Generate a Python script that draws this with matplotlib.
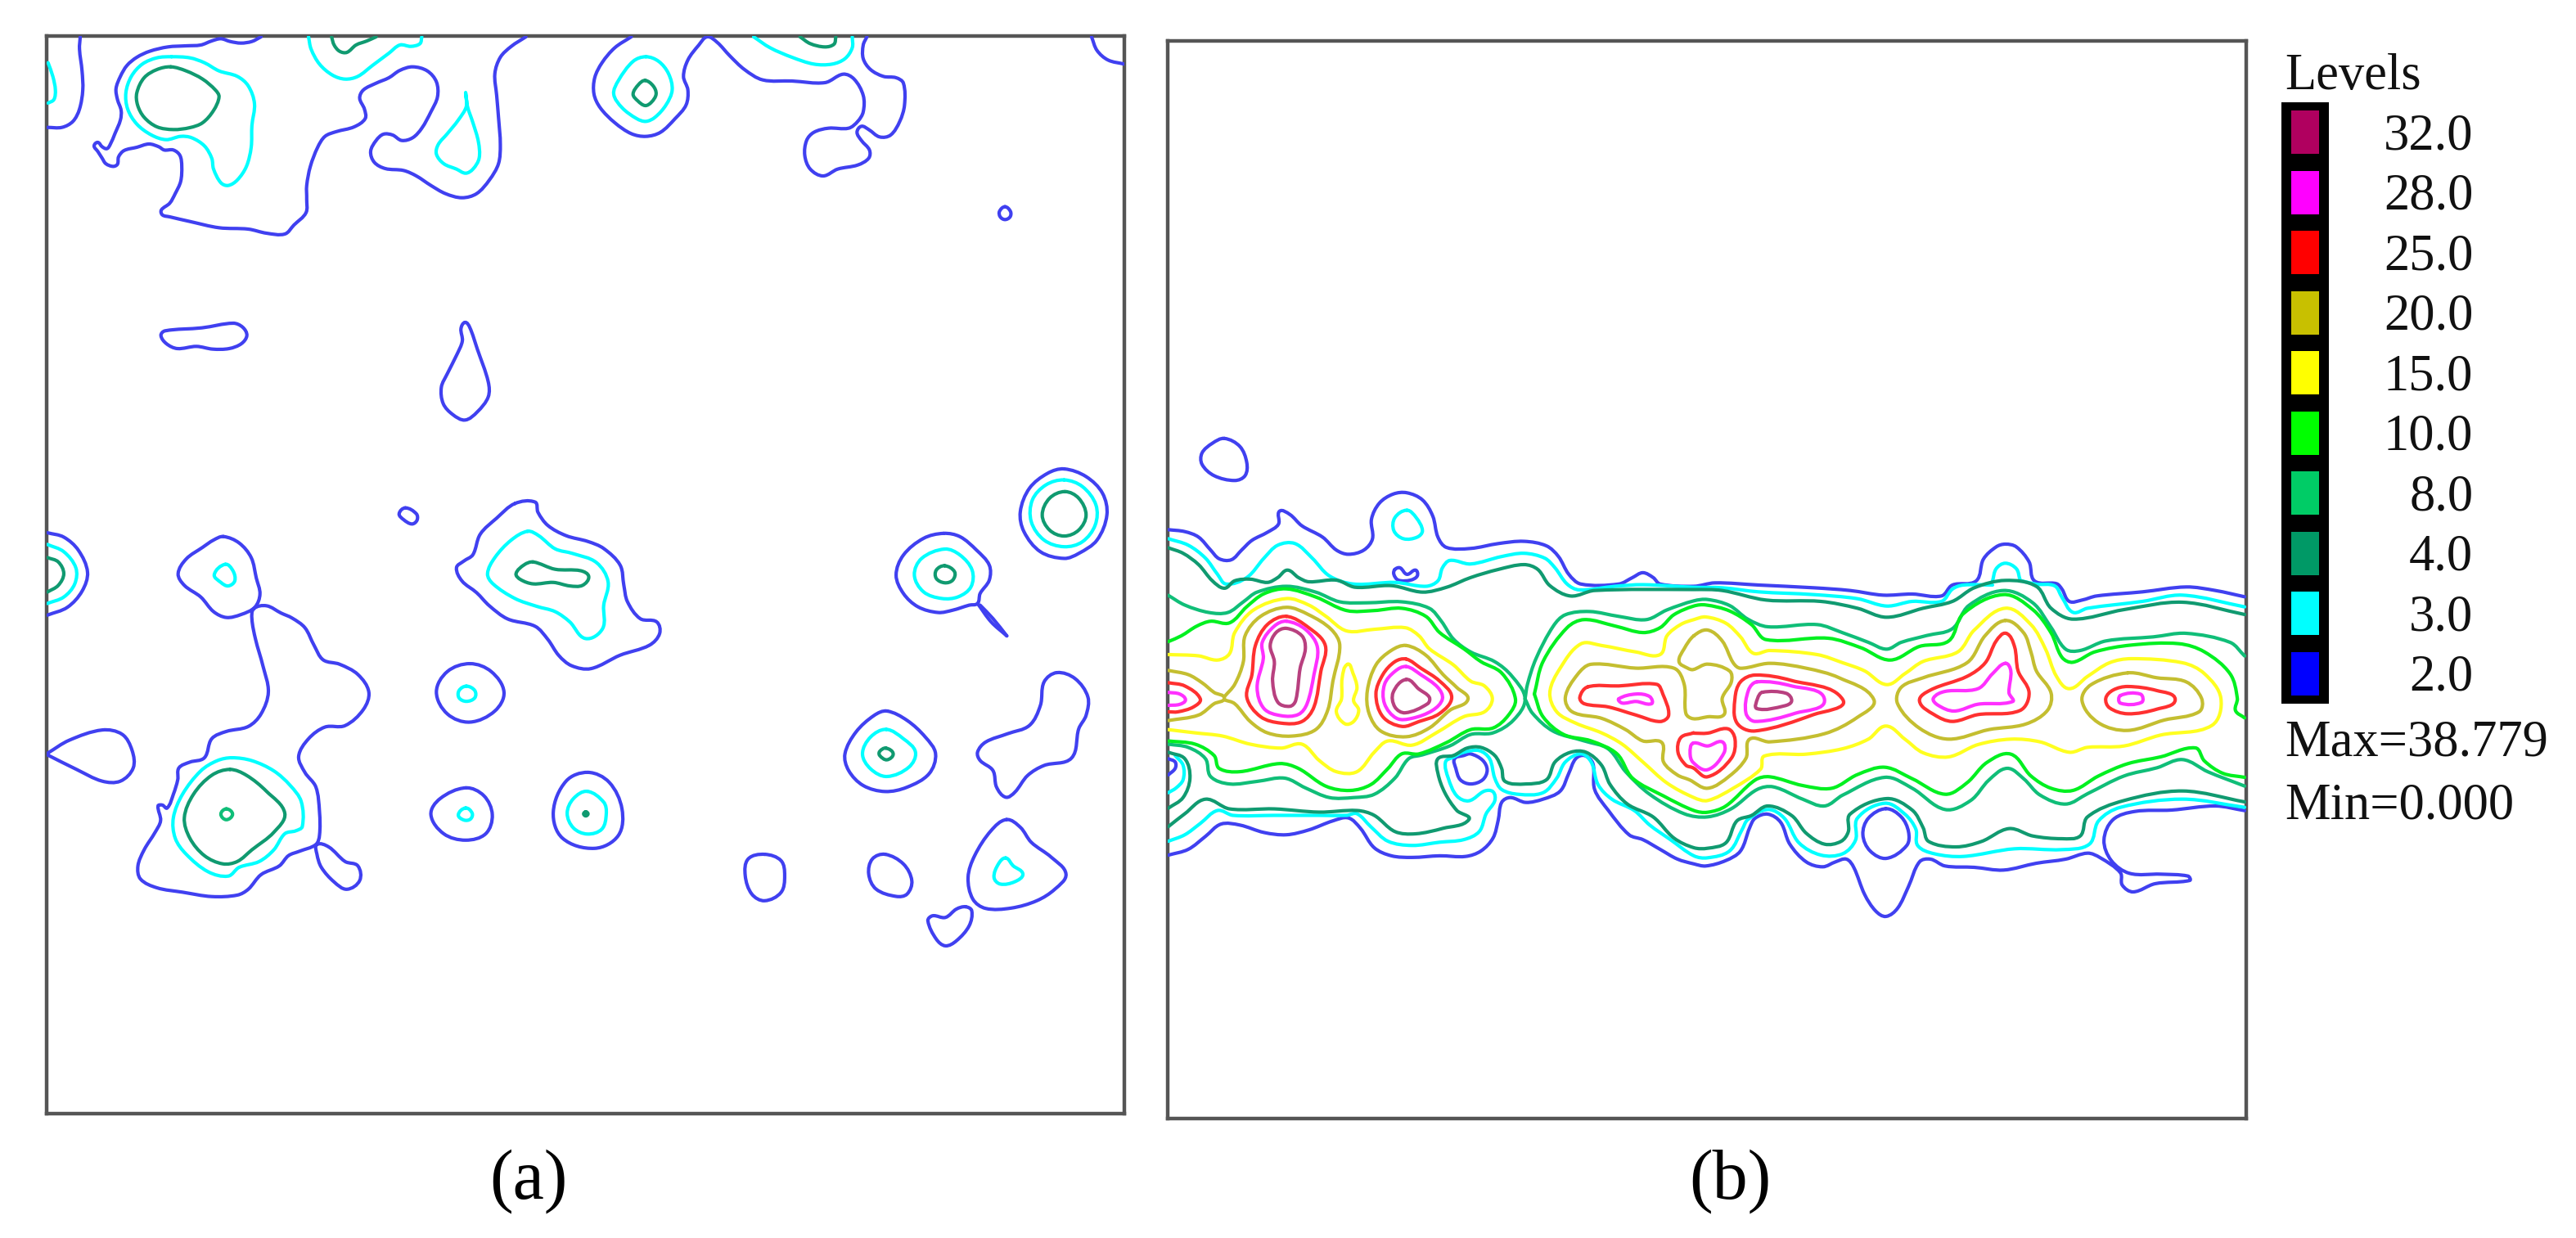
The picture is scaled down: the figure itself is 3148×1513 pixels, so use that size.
import numpy as np
import matplotlib
matplotlib.use("Agg")
import matplotlib.pyplot as plt
from matplotlib.path import Path
from matplotlib.patches import PathPatch, Rectangle

W, H = 3148, 1513

# Digitising helpers: every crop of the reference has an origin and a scale;
# they turn crop readings into reference pixel readings.
def _crop(x0, y0, sx, sy):
    def f(pts):
        return [(x0 + x / sx, y0 + y / sy) for x, y in pts]
    return f

z1 = _crop(40, 30, 2.24, 3.0)
z2 = _crop(700, 30, 2.24, 3.0)
z3 = _crop(40, 560, 2.24, 2.8)
z4 = _crop(700, 560, 2.24, 2.45)
z5 = _crop(1410, 520, 2.376, 2.529)
z6 = _crop(2060, 620, 2.24, 3.0)
z8 = _crop(150, 370, 3.0, 3.0)

# ------------------------------------------------------------------ legend
LEVEL_VALUES = [32.0, 28.0, 25.0, 20.0, 15.0, 10.0, 8.0, 4.0, 3.0, 2.0]
LEVEL_LABELS = ["32.0", "28.0", "25.0", "20.0", "15.0", "10.0", "8.0", "4.0", "3.0", "2.0"]
MAX_LABEL = "Max=38.779"
MIN_LABEL = "Min=0.000"

# ------------------------------------------------------------------ panel (a)
# (contour points, closed?)
A_L2 = [
 (z1([(130,45),(128,90),(135,170),(137,240),(128,310),(110,355),(80,377),(40,377)]), False),
 (z1([(625,45),(600,62),(570,68),(540,62),(515,52),(490,60),(460,75),(420,78),(370,82),(320,98),(285,120),(258,150),(240,190),(228,235),(232,275),(242,315),(240,350),(225,400),(212,440),(203,455),(190,448),(178,432),(168,445),(178,465),(190,490),(200,510),(220,520),(232,512),(235,485),(250,462),(285,450),(318,438),(345,448),(360,460),(385,460),(403,480),(408,520),(405,575),(390,620),(375,655),(352,680),(355,698),(375,705),(430,722),(510,745),(590,750),(640,765),(690,768),(715,735),(748,690),(750,640),(750,590),(760,520),(780,450),(800,410),(830,393),(880,375),(910,345),(908,310),(895,270),(905,240),(940,215),(975,195),(1005,168),(1040,155),(1080,170),(1105,210),(1108,265),(1090,320),(1065,380),(1040,415),(1010,425),(985,405),(960,402),(940,425),(925,465),(935,505),(965,528),(1015,535),(1050,555),(1090,590),(1130,620),(1175,635),(1215,620),(1250,570),(1275,510),(1280,440),(1275,340),(1270,260),(1265,180),(1280,120),(1310,80),(1350,45)]), False),
 (z2([(160,45),(115,85),(80,140),(60,195),(58,255),(75,305),(115,360),(160,400),(200,410),(240,395),(280,345),(310,295),(315,240),(303,190),(315,130),(345,75),(368,45),(395,65),(430,115),(470,165),(520,203),(600,207),(690,213),(740,182),(770,200),(795,260),(795,320),(780,355),(755,380),(700,380),(660,395),(640,425),(635,480),(650,530),(685,555),(725,530),(780,515),(810,490),(812,460),(790,425),(778,395),(790,373),(810,385),(840,412),(870,405),(895,355),(908,295),(905,215),(885,195),(850,190),(815,165),(795,125),(795,75),(805,45)]), False),
 (z2([(1420,45),(1435,95),(1465,130),(1510,145)]), False),
 (z2([(1183,668),(1198,685),(1197,705),(1183,715),(1170,705),(1168,685)]), True),
 (z8([(405,75),(440,90),(455,120),(435,150),(390,168),(330,170),(270,160),(200,168),(160,150),(140,120),(155,103),(290,92)]), True),
 (z8([(1255,72),(1272,90),(1300,170),(1340,290),(1340,345),(1300,400),(1255,430),(1210,410),(1175,370),(1168,310),(1190,260),(1225,190),(1245,140),(1240,95)]), True),
 (z3([(40,255),(85,270),(125,315),(150,390),(135,455),(95,510),(40,537)]), False),
 (z3([(1020,170),(1050,190),(1052,212),(1038,225),(1015,210),(1003,190)]), True),
 (z3([(522,268),(565,290),(598,340),(612,410),(622,465),(608,510),(570,535),(530,545),(495,525),(460,475),(415,435),(398,395),(420,345),(465,305),(495,280)]), True),
 (z3([(605,515),(640,505),(680,530),(710,547),(745,580),(770,640),(795,690),(840,705),(890,740),(920,800),(905,860),(855,915),(800,920),(755,960),(728,1020),(745,1075),(775,1125),(785,1210),(785,1290),(775,1322),(730,1345),(700,1360),(675,1395),(625,1425),(590,1475),(560,1495),(490,1500),(410,1485),(340,1470),(295,1440),(288,1395),(305,1340),(335,1280),(350,1240),(343,1190),(355,1187),(368,1197),(385,1150),(397,1100),(400,1060),(430,1040),(470,1025),(490,960),(530,935),(590,918),(625,875),(645,800),(630,710),(610,620),(600,550)]), True),
 (z3([(778,1322),(810,1330),(855,1380),(890,1395),(895,1445),(860,1475),(825,1450),(790,1400),(778,1355)]), True),
 (z3([(40,1010),(100,965),(190,930),(245,945),(272,1000),(275,1060),(240,1105),(190,1105),(120,1065),(40,1015)]), False),
 (z3([(1197,703),(1255,730),(1290,800),(1265,865),(1197,903),(1135,875),(1105,800),(1135,730)]), True),
 (z3([(1185,1128),(1235,1155),(1258,1220),(1240,1285),(1185,1307),(1125,1285),(1090,1220),(1115,1165)]), True),
 (z3([(1520,1075),(1578,1109),(1613,1200),(1603,1291),(1538,1335),(1450,1300),(1425,1210),(1460,1105)]), True),
 (z3([(1320,155),(1375,150),(1383,185),(1410,230),(1460,265),(1520,285),(1563,309),(1608,366),(1618,434),(1628,491),(1663,549),(1708,560),(1716,600),(1688,640),(1608,674),(1528,720),(1475,710),(1440,675),(1410,620),(1375,575),(1300,550),(1250,505),(1215,460),(1175,420),(1160,375),(1180,352),(1205,330),(1225,260),(1270,205)]), True),
 (z4([(1345,32),(1405,55),(1450,105),(1462,170),(1435,245),(1385,285),(1345,300),(1280,280),(1235,220),(1225,160),(1250,90),(1300,45)]), True),
 (z4([(1015,225),(1060,235),(1105,275),(1140,320),(1140,365),(1115,405),(1108,435),(1085,440),(1040,455),(1000,462),(945,445),(905,405),(885,350),(905,290),(960,240)]), True),
 (z4([(1108,435),(1145,490),(1188,532)]), False),
 (z4([(1188,532),(1150,480),(1115,440)]), False),
 (z4([(860,757),(915,785),(965,835),(993,885),(975,945),(915,985),(855,998),(795,980),(755,935),(745,885),(775,820),(825,770)]), True),
 (z4([(1325,642),(1375,660),(1410,715),(1405,770),(1385,810),(1365,898),(1290,920),(1245,950),(1210,1000),(1185,1015),(1160,985),(1150,935),(1115,905),(1108,880),(1130,850),(1190,825),(1250,800),(1280,740),(1290,670)]), True),
 (z4([(525,1186),(570,1205),(580,1250),(570,1300),(525,1325),(490,1305),(472,1250),(480,1200)]), True),
 (z4([(855,1186),(905,1215),(928,1265),(915,1305),(885,1312),(830,1290),(810,1245),(820,1200)]), True),
 (z4([(1187,1082),(1225,1105),(1255,1150),(1310,1195),(1350,1245),(1320,1290),(1270,1325),(1200,1347),(1130,1348),(1095,1320),(1082,1255),(1100,1190),(1145,1115)]), True),
 (z4([(1075,1343),(1092,1355),(1085,1400),(1050,1445),(1020,1460),(995,1440),(972,1385),(985,1370),(1020,1375),(1050,1350)]), True),
]
A_L3 = [
 (z1([(42,140),(55,190),(62,240),(58,275),(42,288)]), False),
 (z1([(380,118),(430,122),(470,140),(510,170),(560,190),(590,225),(607,290),(600,370),(598,450),(585,520),(560,570),(535,590),(515,580),(495,530),(490,490),(470,445),(435,415),(405,410),(365,422),(325,405),(285,365),(260,310),(255,250),(270,190),(300,145),(340,122)]), True),
 (z1([(755,45),(762,90),(785,145),(820,185),(855,200),(890,190),(930,150),(975,105),(1005,75),(1035,80),(1060,70),(1065,45)]), False),
 (z1([(1185,250),(1187,300),(1165,350),(1135,400),(1110,440),(1105,475),(1125,510),(1160,530),(1185,545),(1205,530),(1222,490),(1220,430),(1205,360),(1190,300),(1185,250)]), False),
 (z2([(200,118),(235,135),(262,180),(272,240),(255,295),(225,340),(200,355),(175,345),(135,305),(112,255),(125,205),(165,135)]), True),
 (z2([(495,45),(540,85),(600,120),(660,145),(710,145),(745,125),(765,85),(765,45)]), False),
 (z3([(527,363),(548,385),(553,420),(535,437),(515,425),(497,398)]), True),
 (z3([(40,295),(85,320),(118,375),(115,430),(85,475),(40,497)]), False),
 (z3([(1187,780),(1210,795),(1210,820),(1187,832),(1167,820),(1167,795)]), True),
 (z3([(1185,1197),(1203,1215),(1198,1235),(1180,1238),(1165,1220)]), True),
 (z3([(545,1025),(600,1035),(660,1070),(705,1120),(735,1175),(738,1260),(720,1275),(690,1285),(660,1340),(620,1380),(565,1400),(535,1430),(480,1415),(420,1355),(390,1300),(385,1230),(410,1150),(460,1070),(505,1035)]), True),
 (z3([(1518,1140),(1563,1177),(1570,1217),(1558,1269),(1518,1286),(1480,1265),(1463,1215),(1480,1165)]), True),
 (z3([(1355,250),(1385,265),(1430,310),(1478,326),(1543,357),(1575,423),(1563,503),(1560,583),(1513,617),(1470,560),(1430,525),(1380,507),(1320,480),(1260,430),(1245,395),(1265,340),(1310,280)]), True),
 (z4([(1345,65),(1395,85),(1432,140),(1430,200),(1395,250),(1345,265),(1290,245),(1255,190),(1258,125),(1295,80)]), True),
 (z4([(1018,272),(1060,290),(1093,335),(1090,385),(1055,415),(1010,420),(960,400),(935,350),(955,300)]), True),
 (z4([(858,812),(905,840),(938,880),(920,925),(860,953),(815,930),(793,885),(815,835)]), True),
 (z4([(1185,1197),(1205,1220),(1232,1245),(1210,1268),(1170,1275),(1153,1255),(1165,1215)]), True),
]
A_L4 = [
 (z1([(378,155),(420,170),(465,200),(500,240),(510,265),(495,315),(465,360),(430,378),(385,385),(340,375),(305,340),(287,295),(285,250),(305,195),(340,165)]), True),
 (z1([(818,45),(825,75),(840,98),(860,102),(885,75),(915,60),(940,45)]), False),
 (z2([(198,205),(220,225),(228,255),(215,285),(198,297),(178,280),(165,255),(180,220)]), True),
 (z2([(622,45),(650,70),(690,82),(715,72),(720,45)]), False),
 (z3([(40,340),(70,355),(85,395),(70,435),(40,458)]), False),
 (z3([(540,1065),(585,1085),(640,1140),(690,1215),(660,1280),(600,1340),(560,1380),(520,1388),(470,1360),(430,1300),(415,1230),(440,1150),(490,1085)]), True),
 (z3([(1514,1210),(1520,1217),(1514,1224),(1508,1217)]), True),
 (z3([(1370,355),(1430,380),(1500,385),(1522,405),(1505,435),(1470,437),(1425,425),(1370,430),(1335,415),(1323,395),(1345,365)]), True),
 (z4([(1347,100),(1385,120),(1405,170),(1385,215),(1345,233),(1305,215),(1285,170),(1305,120)]), True),
 (z4([(1018,322),(1045,340),(1040,365),(1018,373),(995,360),(995,335)]), True),
 (z4([(857,868),(877,885),(860,903),(840,890),(840,878)]), True),
]
A_L8 = [
 (z3([(530,1200),(547,1218),(530,1237),(515,1218)]), True),
]

# ------------------------------------------------------------------ panel (b)
B_L2 = [
 (z5([(205,40),(250,65),(270,115),(265,155),(235,170),(175,155),(140,120),(140,85),(170,55)]), True),
 (z5([(42,322),(90,328),(130,345),(165,385),(190,412),(225,415),(255,385),(285,355),(330,330),(362,305),(365,265),(395,275),(430,310),(490,345),(530,385),(565,398),(610,385),(635,350),(632,290),(655,240),(695,212),(735,208),(780,230),(810,280),(825,345),(850,377),(920,380),(1000,365),(1075,358),(1140,372),(1175,405),(1205,460),(1240,490),(1350,490),(1390,470),(1420,455),(1450,470),(1470,490),(1568,497)])
  + z6([(80,277),(200,285),(350,295),(450,305),(540,322),(620,318),(700,325),(730,285),(795,270),(815,190),(850,145),(875,135),(905,145),(940,200),(955,270),(1015,280),(1030,300),(1050,345),(1085,340),(1125,325),(1250,310),(1370,292),(1450,305),(1530,328)]), False),
 (z5([(700,445),(715,440),(735,460),(760,447),(765,465),(745,478),(710,478),(697,460)]), True),
 (z5([(42,1328),(100,1310),(150,1270),(195,1232),(250,1235),(320,1258),(385,1265),(450,1250),(520,1222),(565,1213),(600,1245),(640,1305),(690,1330),(750,1335),(830,1330),(905,1332),(950,1315),(985,1275),(1000,1220),(1010,1165),(1035,1150),(1080,1165),(1130,1155),(1180,1130),(1205,1075),(1225,1030),(1250,1020),(1275,1045),(1280,1125),(1320,1190),(1380,1265),(1420,1280),(1470,1310),(1520,1340),(1568,1355)])
  + z6([(55,1315),(110,1295),(150,1260),(175,1175),(190,1140),(225,1125),(260,1155),(285,1235),(330,1300),(375,1318),(410,1300),(440,1290),(460,1320),(490,1420),(520,1480),(548,1500),(580,1470),(610,1390),(640,1300),(670,1290),(710,1315),(790,1320),(870,1330),(960,1305),(1040,1290),(1100,1268),(1135,1285),(1190,1340),(1195,1385),(1225,1410),(1285,1380),(1380,1368),(1375,1352),(1300,1345),(1215,1342),(1165,1295),(1145,1220),(1170,1145),(1230,1115),(1330,1110),(1450,1095),(1530,1112)]), False),
 (z5([(873,1030),(900,1020),(920,1015),(955,1035),(968,1065),(955,1095),(920,1108),(890,1095),(877,1060)]), True),
 (z5([(42,1030),(62,1040),(62,1060),(42,1080)]), False),
 (z6([(548,1105),(590,1135),(610,1190),(605,1240),(550,1287),(505,1260),(485,1200),(500,1140)]), True),
]
B_L3 = [
 (z5([(42,350),(100,370),(150,410),(185,460),(210,490),(270,470),(320,410),(360,370),(410,365),(460,410),(510,465),(580,490),(700,485),(790,497),(825,480),(838,440),(860,417),(920,428),(1010,405),(1075,395),(1135,410),(1165,440),(1200,490),(1235,508),(1340,497),(1420,492),(1568,500)])
  + z6([(100,295),(200,310),(350,320),(470,335),(550,362),(620,345),(700,345),(730,300),(760,285),(840,285)]), False),
 (z6([(840,270),(850,225),(875,205),(905,225),(915,265)]), False),
 (z6([(915,268),(960,282),(1010,288),(1030,330),(1060,385),(1100,370),(1250,345),(1360,322),(1530,365)]), False),
 (z5([(42,1285),(90,1265),(135,1230),(185,1190),(230,1205),(350,1205),(480,1205),(560,1205),(590,1200),(630,1240),(680,1285),(750,1298),(830,1288),(900,1280),(945,1255),(965,1200),(990,1160),(985,1132),(960,1130),(915,1160),(880,1145),(855,1090),(847,1040),(870,1025),(900,1010),(945,1005),(975,1030),(990,1090),(1010,1125),(1060,1140),(1130,1135),(1170,1090),(1195,1040),(1240,1015),(1270,1040),(1290,1110),(1330,1155),(1395,1190),(1440,1235),(1500,1280),(1568,1330)])
  + z6([(60,1285),(120,1260),(155,1180),(170,1145),(225,1108),(270,1140),(310,1230),(370,1275),(430,1270),(465,1220),(470,1140),(545,1085),(600,1125),(630,1180),(635,1240),(680,1270),(760,1280),(900,1252),(1030,1255),(1105,1235),(1130,1150),(1190,1100),(1360,1070),(1530,1100)]), False),
 (z5([(735,262),(762,285),(780,325),(765,345),(725,350),(697,325),(700,285)]), True),
 (z5([(62,1020),(85,1050),(85,1095),(65,1120),(42,1135)]), False),
]
B_L4 = [
 (z5([(42,378),(85,395),(130,430),(170,480),(205,503),(235,480),(280,475),(330,485),(360,470),(388,447),(420,470),(450,483),(530,478),(585,500),(690,495),(780,515),(850,500),(920,470),(1000,445),(1075,430),(1115,445),(1150,495),(1210,527),(1280,510),(1568,507)])
  + z6([(100,305),(220,340),(370,345),(470,370),(550,403),(650,370),(730,345),(790,295),(875,268),(960,290),(1000,370),(1060,410),(1200,375),(1360,348),(1530,393)]), False),
 (z5([(42,1240),(90,1200),(150,1155),(220,1185),(350,1185),(480,1195),(590,1190),(640,1205),(700,1255),(760,1262),(840,1245),(915,1218),(880,1190),(845,1135),(825,1075),(825,1030),(870,1020),(910,997),(950,995),(990,1020),(1010,1060),(1020,1100),(1080,1108),(1140,1095),(1165,1040),(1210,1010),(1255,1010),(1300,1050),(1325,1110),(1375,1170),(1450,1210),(1510,1275),(1568,1305)])
  + z6([(60,1250),(110,1230),(140,1150),(180,1130),(225,1095),(290,1130),(330,1195),(380,1235),(425,1225),(445,1190),(450,1125),(550,1068),(620,1110),(650,1175),(665,1225),(740,1245),(810,1225),(885,1178),(950,1205),(1030,1215),(1080,1205),(1100,1135),(1200,1075),(1360,1040),(1530,1080)]), False),
 (z5([(42,1183),(85,1150),(105,1090),(90,1030),(42,1010)]), False),
]
B_L8 = [
 (z5([(42,525),(90,555),(160,578),(215,578),(260,545),(300,515),(385,497),(470,515),(540,545),(620,548),(720,545),(800,565),(835,605),(870,660),(920,700),(990,730),(1040,775),(1078,845),(1045,910),(985,950),(920,955),(860,990),(780,1018),(740,1030),(700,1090),(640,1140),(580,1150),(510,1150),(440,1120),(380,1090),(300,1100),(220,1108),(165,1085),(150,1030),(100,995),(42,985)]), False),
 (z5([(1078,845),(1085,800),(1110,720),(1160,620),(1195,585),(1265,575),(1350,590),(1430,600),(1490,570),(1568,542)])
  + z6([(60,338),(120,360),(170,410),(225,438),(360,430),(430,460),(500,495),(550,520),(590,495),(660,470),(730,445),(775,360),(870,305),(950,350),(1000,440),(1040,520),(1080,525),(1150,490),(1280,475),(1370,462),(1490,495),(1530,545)]), False),
 (z5([(1078,845),(1100,890),(1160,945),(1250,975),(1320,1000),(1370,1070),(1440,1140),(1540,1200)])
  + z6([(60,1135),(125,1105),(195,1035),(240,1025),(320,1070),(380,1095),(430,1055),(545,990),(620,1030),(710,1108),(780,1075),(830,1000),(880,957),(925,995),(970,1055),(1040,1088),(1100,1050),(1200,985),(1290,955),(1360,925),(1430,970),(1530,1022)]), False),
]
B_L10 = [
 (z5([(42,668),(80,650),(125,620),(165,605),(220,610),(270,560),(320,520),(385,505),(470,530),(560,572),(640,572),(720,565),(790,590),(830,640),(900,690),(950,730),(1010,765),(1050,845),(1030,895),(985,935),(920,940),(850,980),(770,1015),(720,1015),(680,1060),(630,1110),(570,1128),(500,1115),(420,1060),(365,1045),(250,1070),(190,1060),(175,1020),(120,985),(42,975)]), False),
 (z5([(1105,830),(1130,730),(1200,625),(1250,600),(1340,620),(1420,640),(1470,625),(1510,585),(1568,558)])
  + z6([(55,358),(120,380),(180,430),(220,485),(390,480),(480,515),(560,560),(640,510),(720,490),(760,390),(870,320),(950,375),(1000,460),(1030,550),(1060,568),(1120,530),(1220,505),(1350,500),(1420,530),(1490,610),(1510,700),(1505,745),(1530,772)]), False),
 (z5([(1105,830),(1130,900),(1190,955),(1270,975),(1345,1015),(1390,1090),(1480,1145),(1568,1190)])
  + z6([(60,1118),(110,1095),(190,1000),(230,988),(320,1020),(400,1030),(470,980),(545,953),(620,995),(710,1052),(770,1010),(825,935),(890,905),(945,985),(1000,1030),(1060,1038),(1130,985),(1210,940),(1300,915),(1395,882),(1420,930),(1470,975),(1530,990)]), False),
]
B_L15 = [
 (z5([(42,708),(130,712),(185,725),(220,705),(235,640),(290,570),(385,535),(450,555),(500,590),(560,635),(640,630),(730,625),(770,650),(800,690),(870,740),(920,790),(960,805),(983,845),(960,885),(900,900),(820,950),(750,988),(680,975),(640,1010),(590,1070),(530,1070),(480,1035),(430,985),(370,997),(280,985),(200,960),(120,950),(42,940)]), False),
 (z5([(563,738),(578,765),(590,810),(580,850),(595,880),(580,915),(555,922),(530,885),(545,845),(547,780)]), True),
 (z5([(1150,825),(1180,750),(1240,675),(1300,680),(1400,700),(1470,708),(1490,650),(1530,615),(1568,600)])
  + z6([(55,402),(110,425),(150,475),(185,535),(230,525),(360,540),(430,570),(490,600),(550,650),(600,610),(650,565),(745,530),(790,450),(875,370),(945,430),(985,520),(1015,620),(1050,665),(1100,620),(1160,570),(1220,555),(1360,570),(1420,610),(1465,700),(1440,800),(1300,835),(1200,875),(1100,880),(1050,898),(970,860),(890,850),(800,870),(720,915),(650,900),(600,850),(548,802),(500,850),(430,885),(330,905),(215,912),(205,960),(130,1030),(60,1075)])
  + z5([(1568,1150),(1490,1105),(1420,1040),(1360,985),(1300,950),(1225,920),(1170,885)]), True),
]
B_L20 = [
 (z5([(42,757),(100,770),(140,795),(175,825),(205,843),(175,860),(130,895),(42,912)]), False),
 (z5([(205,838),(235,800),(260,730),(265,650),(310,590),(385,562),(450,585),(515,630),(540,680),(520,790),(505,880),(470,940),(400,960),(330,950),(280,915),(235,860),(205,848)]), False),
 (z5([(733,680),(790,710),(840,770),(880,810),(912,847),(860,880),(800,935),(733,962),(660,945),(625,890),(620,820),(645,740),(690,695)]), True),
 (z5([(1568,650),(1540,690),(1525,730),(1550,750)])
  + z6([(20,595),(60,575),(120,600),(125,640),(100,700),(105,760),(60,768),(20,775)])
  + z5([(1545,890),(1540,800),(1510,750),(1400,750),(1270,738),(1230,770),(1195,840),(1215,885),(1300,905),(1370,940),(1420,975),(1475,980),(1480,1040),(1520,1080),(1555,1095)])
  + z6([(60,1030),(120,985),(165,920),(175,850),(230,860),(380,830),(470,770),(515,705),(420,625),(330,590),(230,572),(150,590),(130,570),(100,490),(60,450)]), True),
 (z6([(875,415),(925,460),(945,530),(960,600),(1000,680),(990,745),(930,795),(830,815),(720,850),(640,810),(580,720),(590,660),(650,625),(770,570),(820,470)]), True),
 (z6([(1210,607),(1290,625),(1370,640),(1412,700),(1405,750),(1310,780),(1210,818),(1130,790),(1085,710),(1110,650)]), True),
]
B_L25 = [
 (z5([(42,795),(90,805),(135,845),(115,870),(70,885),(42,885)]), False),
 (z5([(385,590),(450,625),(498,680),(485,760),(465,870),(430,915),(370,920),(310,900),(270,840),(285,770),(295,680),(330,615)]), True),
 (z5([(733,722),(775,750),(830,790),(865,840),(830,890),(770,915),(720,930),(665,900),(645,830),(665,770),(700,730)]), True),
 (z5([(1260,808),(1350,805),(1460,800),(1478,830),(1495,895),(1470,915),(1400,895),(1320,870),(1250,860),(1237,840)]), True),
 (z6([(190,615),(290,635),(430,705),(350,760),(190,820),(140,790),(135,700),(150,640)]), True),
 (z6([(20,828),(60,828),(115,812),(135,850),(125,920),(60,988),(20,955)]) + z5([(1545,1050),(1522,1010),(1530,965),(1568,950)]), True),
 (z6([(877,462),(900,510),(910,600),(940,680),(915,745),(800,760),(730,785),(680,760),(640,710),(670,670),(770,620),(820,570),(850,490)]), True),
 (z6([(1210,657),(1290,672),(1340,705),(1290,740),(1210,757),(1160,735),(1150,700),(1170,670)]), True),
]
B_L28 = [
 (z5([(42,825),(75,830),(92,848),(75,862),(42,865)]), False),
 (z5([(385,605),(440,630),(475,685),(465,770),(445,860),(420,893),(370,897),(320,875),(300,810),(318,720),(315,670),(350,620)]), True),
 (z5([(733,745),(775,770),(825,810),(838,845),(810,880),(750,905),(705,905),(670,860),(670,800),(700,760)]), True),
 (z5([(1350,845),(1400,830),(1440,838),(1445,860),(1400,853),(1360,858)]), True),
 (z6([(195,640),(290,655),(380,705),(300,755),(190,785),(165,755),(172,670)]), True),
 (z6([(20,865),(60,875),(100,860),(105,900),(60,962),(20,935),(12,900)]), True),
 (z6([(875,572),(890,600),(885,680),(895,712),(800,722),(735,747),(690,725),(678,700),(710,675),(800,665),(840,610)]), True),
 (z6([(1190,690),(1245,685),(1248,715),(1190,718)]), True),
]
B_L32 = [
 (z5([(385,627),(430,650),(440,690),(425,750),(412,850),(395,868),(360,855),(345,790),(350,730),(338,680),(355,640)]), True),
 (z5([(733,785),(770,815),(800,840),(795,860),(730,888),(700,870),(695,825)]), True),
 (z6([(210,678),(275,682),(290,710),(270,728),(195,738),(197,700)]), True),
]

# ------------------------------------------------------------------ styles
SWATCH = {32.0:"#B0005F", 28.0:"#FF00FF", 25.0:"#FF0000", 20.0:"#C8C000", 15.0:"#FFFF00",
          10.0:"#00FF00", 8.0:"#00CC66", 4.0:"#009966", 3.0:"#00FFFF", 2.0:"#0000FF"}
LINE = {32.0:"#B8407F", 28.0:"#FF30FF", 25.0:"#FF3030", 20.0:"#C4BE30", 15.0:"#FFFF20",
        10.0:"#00F020", 8.0:"#10BE78", 4.0:"#109A70", 3.0:"#00FFFF", 2.0:"#4040F0"}
FRAME = "#555555"
SERIF = "Liberation Serif"

def smooth_path(pts, closed):
    """Smooth curve through the digitised vertices, expressed as Bezier segments;
    handle lengths follow the segment length so uneven spacing leaves no kinks."""
    p = np.asarray(pts, float)
    n = len(p)
    def tangent(i):
        a = p[(i - 1) % n] if (closed or i > 0) else p[i]
        c = p[(i + 1) % n] if (closed or i < n - 1) else p[i]
        t = c - a
        return t / (np.hypot(*t) or 1.0)
    verts = [p[0]]
    codes = [Path.MOVETO]
    for i in range(n if closed else n - 1):
        j = (i + 1) % n
        L = np.hypot(*(p[j] - p[i]))
        verts += [p[i] + tangent(i) * L / 3, p[j] - tangent(j) * L / 3, p[j]]
        codes += [Path.CURVE4] * 3
    return Path(verts, codes)

fig = plt.figure(figsize=(W / 100, H / 100), dpi=100, facecolor="white")

def panel(left, right, top, bottom):
    ax = fig.add_axes([left / W, 1 - bottom / H, (right - left) / W, (bottom - top) / H])
    ax.set_xlim(left, right)
    ax.set_ylim(bottom, top)
    ax.set_xticks([]); ax.set_yticks([])
    for s in ax.spines.values():
        s.set_color(FRAME); s.set_linewidth(3.2)
    return ax

def draw(ax, contours, level):
    for pts, closed in contours:
        ax.add_patch(PathPatch(smooth_path(pts, closed), fill=False, edgecolor=LINE[level],
                               linewidth=3.0, capstyle="round", joinstyle="round", zorder=level + 2))

ax_a = panel(57, 1374, 44, 1361)
for lev, c in [(2.0, A_L2), (3.0, A_L3), (4.0, A_L4), (8.0, A_L8)]:
    draw(ax_a, c, lev)

ax_b = panel(1427, 2745, 50, 1367)
for lev, c in [(2.0, B_L2), (3.0, B_L3), (4.0, B_L4), (8.0, B_L8), (10.0, B_L10),
               (15.0, B_L15), (20.0, B_L20), (25.0, B_L25), (28.0, B_L28), (32.0, B_L32)]:
    draw(ax_b, c, lev)

fig.text(646 / W, 1 - 1444 / H, "(a)", family=SERIF, fontsize=62, ha="center", va="center", color="black")
fig.text(2114 / W, 1 - 1444 / H, "(b)", family=SERIF, fontsize=62, ha="center", va="center", color="black")

# legend: a strip with one swatch per level, rows counted from the top
ax_l = fig.add_axes([2788 / W, 1 - 860 / H, 58 / W, 735 / H])
ax_l.set_xlim(0, 1); ax_l.set_ylim(len(LEVEL_VALUES), 0)
ax_l.set_facecolor("black"); ax_l.set_xticks([]); ax_l.set_yticks([])
for s in ax_l.spines.values():
    s.set_visible(False)
for i, v in enumerate(LEVEL_VALUES):
    ax_l.add_patch(Rectangle((0.2, i + 0.14), 0.59, 0.72, facecolor=SWATCH[v], edgecolor="none"))
    ax_l.text(4.04, i + 0.78, LEVEL_LABELS[i], family=SERIF, fontsize=45, ha="right", va="baseline",
              color="#111111", clip_on=False)
fig.text(2792 / W, 1 - 109 / H, "Levels", family=SERIF, fontsize=45, ha="left", va="baseline", color="#111111")
fig.text(2792 / W, 1 - 923 / H, MAX_LABEL, family=SERIF, fontsize=45, ha="left", va="baseline", color="#111111")
fig.text(2792 / W, 1 - 1000 / H, MIN_LABEL, family=SERIF, fontsize=45, ha="left", va="baseline", color="#111111")

fig.savefig("out.png", dpi=100, facecolor="white")
